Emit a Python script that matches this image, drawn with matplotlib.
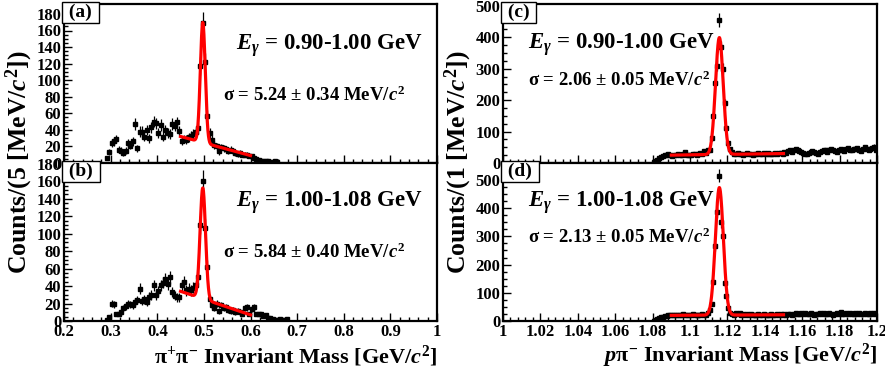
import matplotlib
matplotlib.use('Agg')
import matplotlib.pyplot as plt
from matplotlib.ticker import MultipleLocator, AutoMinorLocator
import numpy as np

plt.rcParams['font.family'] = ['Liberation Serif', 'DejaVu Serif']
plt.rcParams['font.weight'] = 'bold'
plt.rcParams['mathtext.fontset'] = 'custom'
plt.rcParams['mathtext.rm'] = 'Liberation Serif:bold'
plt.rcParams['mathtext.it'] = 'Liberation Serif:italic:bold'
plt.rcParams['mathtext.bf'] = 'Liberation Serif:bold'

# pi+ pi- mass, 5 MeV bins, first bin centre 0.2925 GeV
kshort_a = [6, 13, 24, 26, 29, 16, 15, 12, 15, 24,
            21, 26, 47, 18, 38, 38, 32, 40, 30, 43,
            50, 48, 36, 46, 32, 40, 36, 35, 47, 45,
            49, 39, 27, 29, 28, 31, 33, 35, 37, 42,
            117, 169, 122, 57, 36, 28, 22, 20, 14, 19,
            18, 17, 15, 16, 14, 12, 11, 12, 10, 10,
            10, 9, 8, 6, 5, 4, 3, 3, 2, 2,
            1, 1, 2, 1]
kshort_b = [1, 5, 20, 19, 8, 8, 10, 15, 17, 20,
            19, 18, 22, 24, 37, 23, 25, 22, 28, 30,
            41, 30, 34, 41, 44, 48, 42, 50, 33, 29,
            27, 27, 41, 45, 35, 37, 35, 38, 41, 50,
            110, 160, 107, 62, 25, 18, 15, 20, 12, 18,
            15, 16, 13, 12, 13, 10, 12, 10, 8, 15,
            16, 8, 14, 16, 8, 8, 8, 6, 7, 4,
            3, 2, 1, 1, 2, 1, 1, 2]

# p pi- mass, 1 MeV bins, first bin centre 1.0805 GeV
lambda_c = [2, 5, 10, 15, 18, 22, 24, 25, 28, 26,
            22, 27, 25, 30, 26, 24, 28, 35, 25, 27,
            26, 28, 30, 27, 29, 32, 30, 38, 32, 40,
            42, 80, 150, 255, 310, 455, 370, 300, 190, 110,
            63, 45, 35, 30, 28, 32, 28, 30, 27, 29,
            31, 28, 30, 26, 30, 28, 32, 30, 28, 31,
            29, 33, 30, 28, 30, 32, 29, 31, 33, 30,
            35, 32, 38, 40, 36, 42, 45, 40, 38, 35,
            33, 30, 28, 32, 35, 38, 35, 32, 30, 34,
            38, 40, 42, 36, 40, 45, 42, 38, 35, 40,
            44, 42, 38, 45, 48, 42, 40, 44, 46, 48,
            42, 38, 45, 50, 44, 40, 46, 48, 52, 40]
lambda_d = [1, 3, 8, 10, 14, 15, 16, 18, 20, 22,
            20, 22, 21, 23, 20, 22, 24, 21, 23, 22,
            20, 24, 22, 21, 23, 22, 24, 22, 23, 28,
            40, 60, 140, 265, 385, 515, 350, 300, 135, 90,
            45, 30, 25, 22, 28, 24, 30, 22, 25, 22,
            24, 22, 25, 20, 23, 22, 24, 21, 22, 25,
            23, 20, 22, 24, 21, 23, 26, 22, 24, 23,
            25, 22, 24, 26, 23, 25, 27, 24, 26, 28,
            25, 27, 24, 26, 28, 25, 23, 26, 24, 27,
            25, 28, 26, 24, 27, 25, 23, 26, 28, 24,
            32, 26, 24, 27, 25, 28, 26, 24, 27, 25,
            28, 26, 25, 27, 24, 26, 28, 25, 27, 26]

# fit results: gaussian amplitude, mean, sigma, background at fit start/end
fit_a = dict(amp=145, mean=0.4977, sigma=0.00524, b0=32, b1=9, lo=0.45, hi=0.60)
fit_b = dict(amp=127, mean=0.4977, sigma=0.00584, b0=34, b1=7, lo=0.45, hi=0.60)
fit_c = dict(amp=372, mean=1.1157, sigma=0.00206, b0=25, b1=30, lo=1.09, hi=1.15)
fit_d = dict(amp=452, mean=1.1157, sigma=0.00213, b0=20, b1=22, lo=1.09, hi=1.15)

energy_labels = ['0.90-1.00', '1.00-1.08', '0.90-1.00', '1.00-1.08']
sigma_labels = ['5.24', '5.84', '2.06', '2.13']
sigma_errors = ['0.34', '0.40', '0.05', '0.05']
panel_names = ['(a)', '(b)', '(c)', '(d)']

W, H = 885, 369
fig = plt.figure(figsize=(W / 100, H / 100), dpi=100)


def px_axes(x0, y0, x1, y1):
    return fig.add_axes([x0 / W, 1 - y1 / H, (x1 - x0) / W, (y1 - y0) / H])


def fit_curve(ax, p):
    x = np.linspace(p['lo'], p['hi'], 600)
    bkg = p['b0'] + (p['b1'] - p['b0']) * (x - p['lo']) / (p['hi'] - p['lo'])
    y = bkg + p['amp'] * np.exp(-0.5 * ((x - p['mean']) / p['sigma']) ** 2)
    ax.plot(x, y, color='#ff0000', lw=2.3, zorder=3)


def histo(ax, start, width, vals):
    vals = np.array(vals, dtype=float)
    x = start + width * np.arange(len(vals))
    ax.errorbar(x, vals, yerr=np.sqrt(vals), xerr=width / 2, fmt='s', ms=2.6,
                color='black', ecolor='black', elinewidth=0.9, capsize=0, zorder=2)


def style(ax, xlim, ylim, xmaj, ymaj, show_x, hide_zero):
    ax.set_xlim(*xlim)
    ax.set_ylim(*ylim)
    ax.xaxis.set_major_locator(MultipleLocator(xmaj))
    ax.xaxis.set_minor_locator(AutoMinorLocator(5))
    ax.yaxis.set_major_locator(MultipleLocator(ymaj))
    ax.yaxis.set_minor_locator(AutoMinorLocator(4))
    ax.tick_params(which='both', direction='in', top=False, right=False,
                   labelsize=12, pad=2)
    ax.tick_params(which='major', length=6, width=1)
    ax.tick_params(which='minor', length=3, width=1)
    for s in ax.spines.values():
        s.set_linewidth(1.6)
    if not show_x:
        ax.tick_params(axis='x', labelbottom=False)
    if hide_zero:
        ax.yaxis.get_major_ticks()[0].label1.set_visible(False)
    for lab in ax.get_xticklabels() + ax.get_yticklabels():
        lab.set_fontweight('bold')


def panel_box(ax, name):
    ax.text(0.0, 1.0, ' ' + name + ' ', transform=ax.transAxes, ha='left', va='top',
            fontsize=14, fontweight='bold', zorder=5,
            bbox=dict(boxstyle='square,pad=0.1', fc='white', ec='black', lw=1.0))


ax_a = px_axes(64, 4, 437, 163)
ax_b = px_axes(64, 163, 437, 321)
ax_c = px_axes(503, 4, 877, 163)
ax_d = px_axes(503, 163, 877, 321)

histo(ax_a, 0.2925, 0.005, kshort_a)
histo(ax_b, 0.2925, 0.005, kshort_b)
histo(ax_c, 1.0805, 0.001, lambda_c)
histo(ax_d, 1.0805, 0.001, lambda_d)
fit_curve(ax_a, fit_a)
fit_curve(ax_b, fit_b)
fit_curve(ax_c, fit_c)
fit_curve(ax_d, fit_d)

style(ax_a, (0.2, 1.0), (0, 192), 0.1, 20, False, True)
style(ax_b, (0.2, 1.0), (0, 181), 0.1, 20, True, False)
style(ax_c, (1.0, 1.2), (0, 506), 0.02, 100, False, True)
style(ax_d, (1.0, 1.2), (0, 560), 0.02, 100, True, False)
ax_b.xaxis.set_major_formatter(plt.FuncFormatter(lambda v, p: '%g' % round(v, 2)))
ax_d.xaxis.set_major_formatter(plt.FuncFormatter(lambda v, p: '%g' % round(v, 2)))

for ax, name in zip([ax_a, ax_b, ax_c, ax_d], panel_names):
    panel_box(ax, name)

# energy and sigma annotations, positions in pixels
e_pos = [(423, 46, 'right'), (423, 203, 'right'), (528, 45, 'left'), (528, 203, 'left')]
s_pos = [(405, 95, 'right'), (405, 252, 'right'), (528, 80, 'left'), (528, 237, 'left')]
for i in range(4):
    x, y, ha = e_pos[i]
    fig.text(x / W, 1 - y / H, r'$E_{\gamma}$ = ' + energy_labels[i] + ' GeV',
             ha=ha, va='center', fontsize=16.5, fontweight='bold')
    x, y, ha = s_pos[i]
    fig.text(x / W, 1 - y / H,
             r'$\mathrm{\sigma}$ = ' + sigma_labels[i] + r' $\pm$ ' + sigma_errors[i]
             + r' MeV/$c^{2}$', ha=ha, va='center', fontsize=13.5, fontweight='bold')

fig.text(437 / W, 1 - 356 / H, r'$\mathrm{\pi}^{+}\mathrm{\pi}^{-}$ Invariant Mass [GeV/$c^{2}$]',
         ha='right', va='center', fontsize=16, fontweight='bold')
fig.text(877 / W, 1 - 356 / H, r'$p\mathrm{\pi}^{-}$ Invariant Mass [GeV/$c^{2}$]',
         ha='right', va='center', fontsize=16, fontweight='bold')
fig.text(19 / W, 1 - 162 / H, r'Counts/(5 [MeV/$c^{2}$])', rotation=90,
         ha='center', va='center', fontsize=18.5, fontweight='bold')
fig.text(458 / W, 1 - 162 / H, r'Counts/(1 [MeV/$c^{2}$])', rotation=90,
         ha='center', va='center', fontsize=18.5, fontweight='bold')

fig.savefig('out.png', dpi=100)
